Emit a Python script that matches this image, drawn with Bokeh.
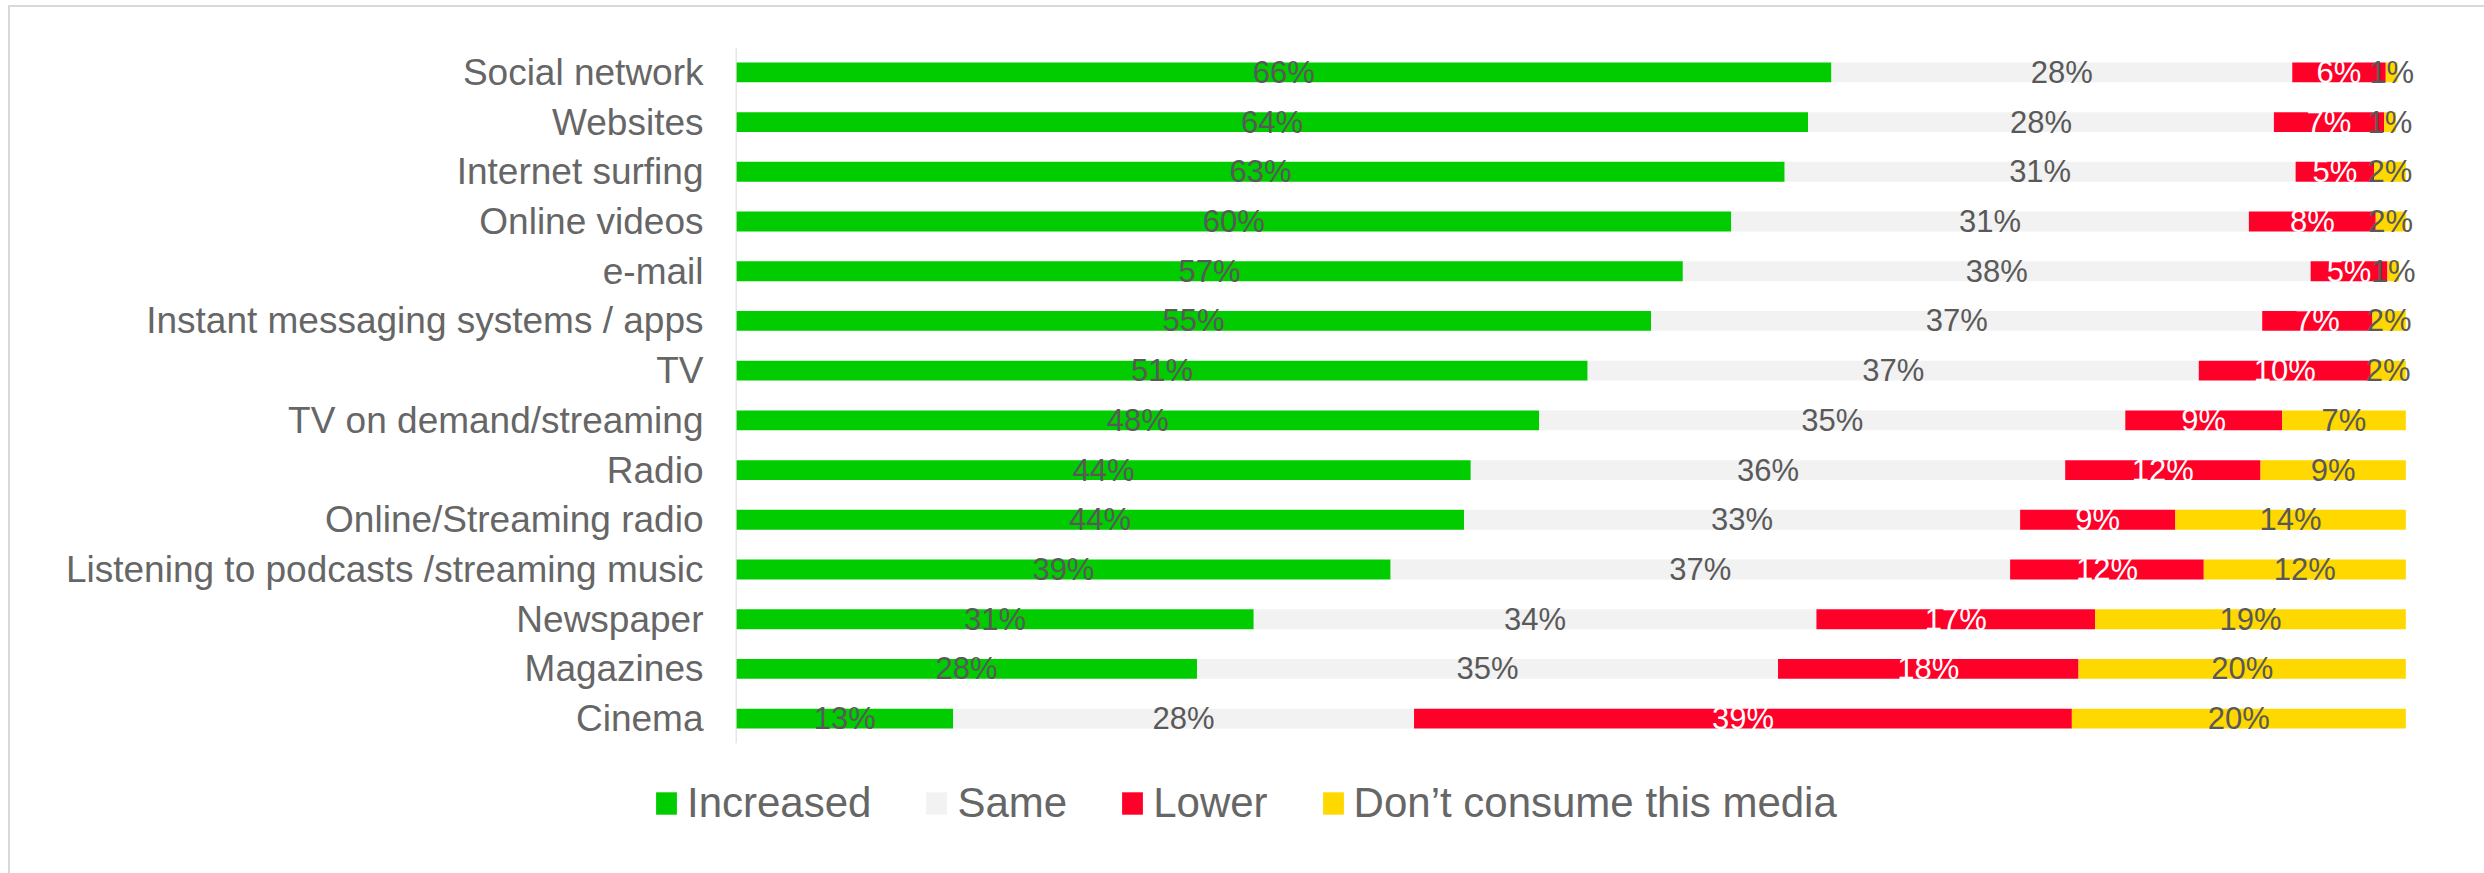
from bokeh.plotting import figure
from bokeh.models import ColumnDataSource, FactorRange, Range1d, Legend, LegendItem, Span
from bokeh.layouts import column
from bokeh.embed import file_html
from bokeh.resources import INLINE
from bokeh.core.properties import value

categories = ["Social network", "Websites", "Internet surfing", "Online videos", "e-mail",
              "Instant messaging systems / apps", "TV", "TV on demand/streaming", "Radio",
              "Online/Streaming radio", "Listening to podcasts /streaming music", "Newspaper",
              "Magazines", "Cinema"]
increased = [65.6, 64.2, 62.8, 59.6, 56.7, 54.8, 51.0, 48.1, 44.0, 43.6, 39.2, 31.0, 27.6, 13.0]
same      = [27.6, 27.9, 30.6, 31.0, 37.6, 36.6, 36.6, 35.1, 35.6, 33.3, 37.1, 33.7, 34.8, 27.6]
lower     = [5.6, 6.6, 4.7, 7.6, 4.6, 6.6, 10.3, 9.4, 11.7, 9.3, 11.6, 16.7, 18.0, 39.4]
dont      = [0.7, 0.7, 1.9, 1.8, 0.7, 2.0, 2.1, 7.4, 8.7, 13.8, 12.1, 18.6, 19.6, 20.0]
series_names = ["Increased", "Same", "Lower", "Don\u2019t consume this media"]

keys = ["inc", "same", "low", "dont"]
series = [increased, same, lower, dont]
colors = ["#00cc00", "#f2f2f2", "#ff0028", "#ffd800"]
label_colors = ["#595959", "#595959", "#ffffff", "#595959"]
FONT = "Liberation Sans"

data = {"cat": categories}
for k, s in zip(keys, series):
    data[k] = s
src = ColumnDataSource(data)

# ---- main chart ----
p = figure(width=2474, height=750,
           y_range=FactorRange(factors=categories[::-1], range_padding=0, factor_padding=0),
           x_range=Range1d(-5.37, 101.0),
           output_backend="svg", toolbar_location=None,
           min_border_left=636, min_border_right=62, min_border_top=40, min_border_bottom=14)
p.background_fill_color = "white"
p.border_fill_color = "white"
p.outline_line_color = None
p.xgrid.grid_line_color = None
p.ygrid.grid_line_color = None
p.xaxis.visible = False

yax = p.yaxis[0]
yax.major_label_text_font = FONT
yax.major_label_text_font_size = "37px"
yax.major_label_text_color = "#666666"
yax.axis_line_color = None
yax.major_tick_line_color = None
yax.minor_tick_line_color = None
yax.major_tick_out = 0
yax.major_tick_in = 0
yax.major_label_standoff = -57

p.add_layout(Span(location=0, dimension="height", line_color="#d9d9d9", line_width=1))

p.hbar_stack(keys, y="cat", height=0.4, color=colors, line_color=None, source=src)

# data labels centred in each segment
starts = [0.0] * len(categories)
for k, s, lc in zip(keys, series, label_colors):
    xs = [st + v / 2 for st, v in zip(starts, s)]
    labs = [f"{round(v)}%" for v in s]
    ls = ColumnDataSource({"x": xs, "cat": categories, "t": labs})
    p.text(x="x", y="cat", text="t", source=ls, text_align="center", text_baseline="middle",
           text_font=value(FONT), text_font_size="31px", text_color=lc)
    starts = [st + v for st, v in zip(starts, s)]

# ---- legend strip ----
pl = figure(width=2474, height=116, x_range=Range1d(0, 1), y_range=Range1d(0, 1),
            x_axis_type=None, y_axis_type=None,
            output_backend="svg", toolbar_location=None,
            min_border_left=0, min_border_right=0, min_border_top=0, min_border_bottom=0)
pl.outline_line_color = None
pl.xgrid.grid_line_color = None
pl.ygrid.grid_line_color = None
pl.background_fill_color = "white"
pl.border_fill_color = "white"

proxies = []
for c in colors:
    # legend swatches only; the bar lies entirely outside the visible ranges
    proxies.append(pl.hbar(y=[-5], left=[-3], right=[-2], height=0.4, color=c, line_color=None))

legend = Legend(items=[LegendItem(label=n, renderers=[r]) for n, r in zip(series_names, proxies)],
                orientation="horizontal", location=(7, 46),
                glyph_width=26, glyph_height=28, label_standoff=8, spacing=52,
                label_text_font=FONT, label_text_font_size="42px", label_text_color="#666666",
                padding=0, margin=0, border_line_color=None, background_fill_alpha=0)
pl.add_layout(legend)

layout = column(p, pl, spacing=0)
layout.styles = {"margin-left": "8px", "margin-top": "5px",
                 "border-left": "2px solid #d9d9d9", "border-top": "2px solid #d9d9d9"}

open("out.html", "w").write(file_html(layout, INLINE))
